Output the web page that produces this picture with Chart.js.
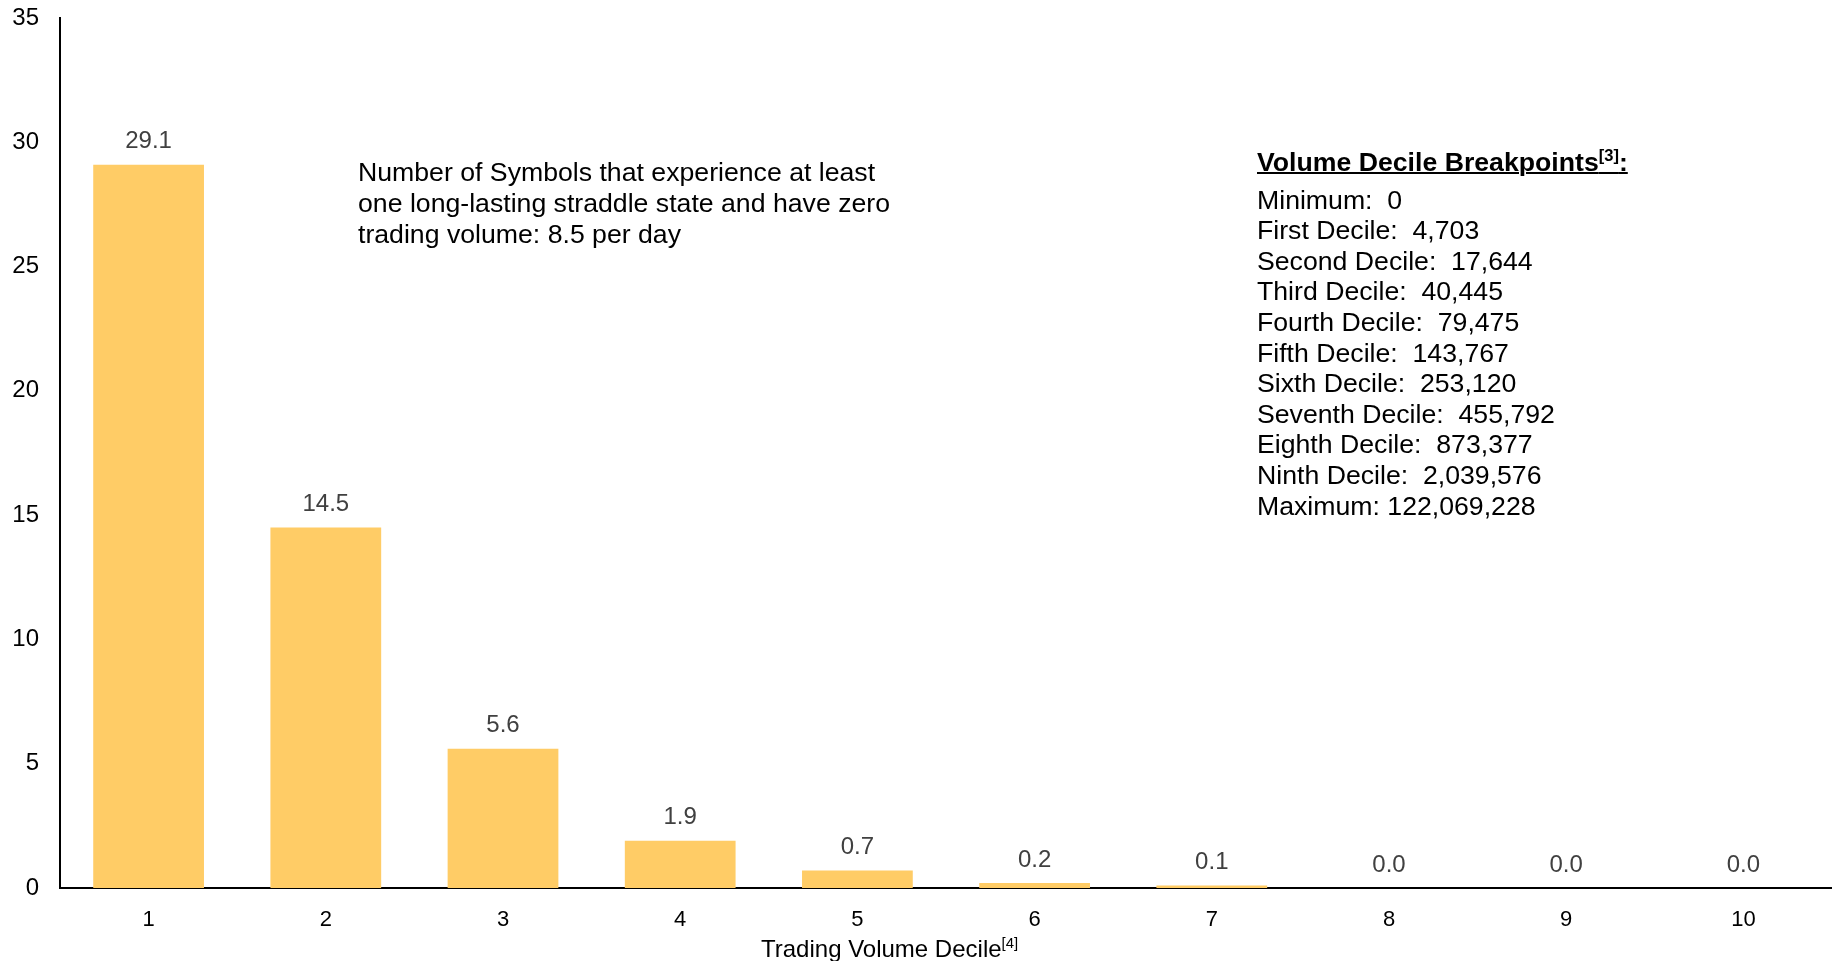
<!DOCTYPE html>
<html>
<head>
<meta charset="utf-8">
<script src="https://cdn.jsdelivr.net/npm/chart.js@4.4.1/dist/chart.umd.min.js"></script>
<style>
    html, body { margin: 0; padding: 0; background: #fff; }
    #wrap { position: relative; width: 1832px; height: 961px; font-family: "Liberation Sans", Arial, sans-serif; color: #000; }
    #chart { position: absolute; left: 0; top: 0; }
    .note { position: absolute; left: 358px; top: 157px; font-size: 26.67px; line-height: 31px; white-space: nowrap; }
    .breaks { position: absolute; left: 1257px; top: 147px; font-size: 26.67px; line-height: 30.6px; white-space: nowrap; }
    .breaks .head { font-weight: bold; text-decoration: underline; text-decoration-thickness: 2px; margin-bottom: 7px; }
    sup { font-size: 0.62em; line-height: 0; vertical-align: 0.6em; }
    .xtitle { position: absolute; left: 761px; top: 937px; font-size: 24px; line-height: 24px; white-space: nowrap; }
</style>
</head>
<body>
<div id="wrap">
    <canvas id="chart" width="1832" height="961"></canvas>
    <div class="note">Number of Symbols that experience at least<br>one long-lasting straddle state and have zero<br>trading volume: 8.5 per day</div>
    <div class="breaks" id="breaks"></div>
    <div class="xtitle">Trading Volume Decile<sup>[4]</sup></div>
</div>
<script>
const deciles = ['1', '2', '3', '4', '5', '6', '7', '8', '9', '10'];
const symbolsPerDay = [29.1, 14.5, 5.6, 1.9, 0.7, 0.2, 0.1, 0.0, 0.0, 0.0];
const yTicks = [0, 5, 10, 15, 20, 25, 30, 35];

const breakpointNames = ['Minimum:  ', 'First Decile:  ', 'Second Decile:  ', 'Third Decile:  ', 'Fourth Decile:  ',
    'Fifth Decile:  ', 'Sixth Decile:  ', 'Seventh Decile:  ', 'Eighth Decile:  ', 'Ninth Decile:  ', 'Maximum: '];
const breakpointValues = ['0', '4,703', '17,644', '40,445', '79,475', '143,767', '253,120', '455,792', '873,377', '2,039,576', '122,069,228'];

document.addEventListener('DOMContentLoaded', function () {
    // breakpoint list on the right
    const box = document.getElementById('breaks');
    let html = '<div class="head">Volume Decile Breakpoints<sup>[3]</sup>:</div>';
    breakpointNames.forEach((name, i) => {
        html += '<div>' + name.replace(/ /g, '&nbsp;') + breakpointValues[i] + '</div>';
    });
    box.innerHTML = html;

    // value labels above bars
    const barLabels = {
        id: 'barLabels',
        afterDatasetsDraw(chart) {
            const ctx = chart.ctx;
            const meta = chart.getDatasetMeta(0);
            ctx.save();
            ctx.font = '24px "Liberation Sans", Arial, sans-serif';
            ctx.fillStyle = '#404040';
            ctx.textAlign = 'center';
            ctx.textBaseline = 'middle';
            meta.data.forEach((bar, i) => {
                ctx.fillText(symbolsPerDay[i].toFixed(1), bar.x, bar.y - 23);
            });
            ctx.restore();
        }
    };

    Chart.defaults.font.family = '"Liberation Sans", Arial, sans-serif';

    new Chart(document.getElementById('chart'), {
        type: 'bar',
        data: {
            labels: deciles,
            datasets: [{
                data: symbolsPerDay,
                backgroundColor: '#FFCC66',
                borderWidth: 0,
                barPercentage: 0.625,
                categoryPercentage: 1.0
            }]
        },
        plugins: [barLabels],
        options: {
            responsive: false,
            animation: false,
            layout: { padding: { top: 18, right: 0, left: 0, bottom: 0 } },
            plugins: {
                legend: { display: false },
                tooltip: { enabled: false }
            },
            scales: {
                x: {
                    grid: { display: false, drawTicks: false },
                    border: { display: true, color: '#000', width: 2 },
                    ticks: { color: '#000', font: { size: 22 }, padding: 19, maxRotation: 0 },
                    afterFit: s => { s.height = 73; s.paddingLeft = 0; s.paddingRight = 0; }
                },
                y: {
                    min: 0,
                    max: 35,
                    afterBuildTicks: s => { s.ticks = yTicks.map(v => ({ value: v })); },
                    grid: { display: false, drawTicks: false },
                    border: { display: true, color: '#000', width: 2 },
                    ticks: { color: '#000', font: { size: 24 }, padding: 21 },
                    afterFit: s => { s.width = 60; s.paddingTop = 0; s.paddingBottom = 0; }
                }
            }
        }
    });
});
</script>
</body>
</html>
